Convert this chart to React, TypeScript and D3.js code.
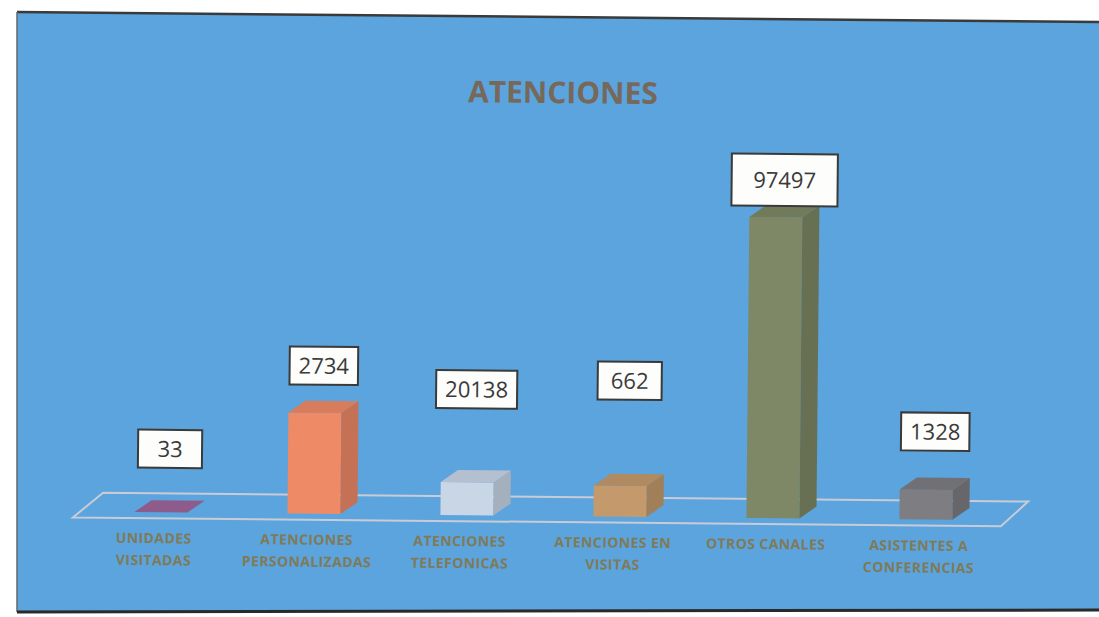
import React from "react";
import * as d3 from "d3";

const title = "ATENCIONES";
const categories = [
  ["UNIDADES", "VISITADAS"],
  ["ATENCIONES", "PERSONALIZADAS"],
  ["ATENCIONES", "TELEFONICAS"],
  ["ATENCIONES EN", "VISITAS"],
  ["OTROS CANALES"],
  ["ASISTENTES A", "CONFERENCIAS"],
];
// value printed in each data label
const labelValues = [33, 2734, 20138, 662, 97497, 1328];
// bar heights as drawn in the picture, in the chart's value units
const drawnHeights = [0, 32700, 10700, 10000, 97497, 9700];
// where each (manually placed) label box sits, in value units
const labelAnchors = [14400, 41800, 34650, 37900, 101150, 22350];
const frontColors = ["#8e5c8a", "#ef8a67", "#c8d6e6", "#c49a6c", "#7f8866", "#7d7d82"];

const W = 1099;
const H = 617;
const baseY = 516;
const depthX = 17;
const depthY = 12;
const barW = 53;

export default function App() {
  const x = d3
    .scaleBand<number>()
    .domain(d3.range(categories.length))
    .range([86.5, 1004.5])
    .paddingInner(0);
  const y = d3.scaleLinear().domain([0, 97497]).range([baseY, baseY - 301]);

  const bars = categories.map((c, i) => {
    const cx = (x(i) as number) + x.bandwidth() / 2;
    const x0 = cx - barW / 2;
    const x1 = cx + barW / 2;
    const yt = y(drawnHeights[i]);
    const front = d3.color(frontColors[i])!;
    const side = front.darker(0.55).formatHex();
    const top = front.darker(0.3).formatHex();
    const hasH = baseY - yt > 1;
    const frontPath = `M${x0},${baseY}L${x1},${baseY}L${x1},${yt}L${x0},${yt}Z`;
    const sidePath = `M${x1},${baseY}L${x1 + depthX},${baseY - depthY}L${x1 + depthX},${yt - depthY}L${x1},${yt}Z`;
    const topPath = `M${x0},${yt}L${x1},${yt}L${x1 + depthX},${yt - depthY}L${x0 + depthX},${yt - depthY}Z`;
    const txt = String(labelValues[i]);
    const big = labelValues[i] === d3.max(labelValues);
    const bw = big ? 106 : Math.max(64, txt.length * 12.6 + 18);
    const bh = big ? 52 : 38;
    const lcx = cx + depthX / 2;
    const by = y(labelAnchors[i]) - bh;
    return (
      <g key={i}>
        {hasH ? (
          <>
            <path d={frontPath} fill={front.formatHex()} />
            <path d={sidePath} fill={side} />
            <path d={topPath} fill={top} />
          </>
        ) : (
          <path d={topPath} fill={front.formatHex()} />
        )}
        <rect x={lcx - bw / 2} y={by} width={bw} height={bh} fill="#fdfdfb" stroke="#3a3a3a" strokeWidth={2} />
        <text x={lcx} y={by + bh / 2 + 8} textAnchor="middle" fontFamily="Open Sans, sans-serif" fontSize={22} fill="#3a3a3a">
          {txt}
        </text>
        {c.map((line, j) => (
          <text
            key={j}
            x={cx - 7}
            y={547 + j * 22}
            textAnchor="middle"
            fontFamily="Open Sans, sans-serif"
            fontWeight="bold"
            fontSize={14}
            letterSpacing={0.4}
            fill="#807a58"
          >
            {line}
          </text>
        ))}
      </g>
    );
  });

  return (
    <svg width={W} height={H} style={{ position: "absolute", left: 0, top: 0, background: "#fff" }}>
      <polygon points="17,12 1099,22 1099,610 17,612" fill="#5ba4dd" />
      <line x1={17} y1={12} x2={1099} y2={22} stroke="#3a3a3a" strokeWidth={2.5} />
      <line x1={17} y1={12} x2={17} y2={612} stroke="#666" strokeWidth={1.5} />
      <line x1={17} y1={612} x2={1099} y2={610} stroke="#2a2a2a" strokeWidth={3} />
      <g transform="rotate(0.55,550,300)">
        <text x={561} y={103} textAnchor="middle" fontFamily="Open Sans, sans-serif" fontWeight="bold" fontSize={30} fill="#77685a">
          {title}
        </text>
        <polygon points={`75,522 1003,522 1030,497 105,497`} fill="none" stroke="#c9ccd6" strokeWidth={2} />
        {bars}
      </g>
    </svg>
  );
}
